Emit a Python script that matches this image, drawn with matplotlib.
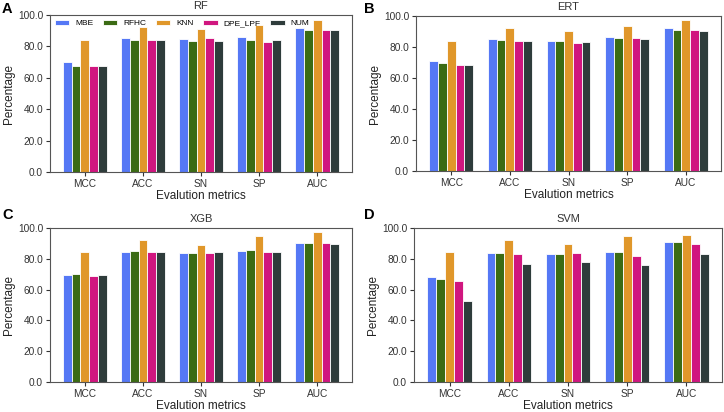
import matplotlib
matplotlib.use("Agg")
import matplotlib.pyplot as plt
import numpy as np

plt.rcParams['font.family'] = ['Liberation Sans', 'DejaVu Sans']

metrics = ["MCC", "ACC", "SN", "SP", "AUC"]
methods = ["MBE", "RFHC", "KNN", "DPE_LPF", "NUM"]
colors = ["#5578f5", "#3b6b14", "#e0972a", "#d0167f", "#2e3c3b"]

# values per classifier, rows = methods, cols = metrics
rf = [
    [70.0, 85.3, 84.7, 85.8, 91.7],
    [67.2, 83.8, 83.6, 84.0, 90.6],
    [84.2, 92.3, 90.8, 93.7, 96.9],
    [67.4, 83.8, 85.3, 82.5, 90.4],
    [67.2, 83.8, 83.4, 84.2, 90.2],
]
ert = [
    [70.7, 85.2, 83.9, 86.6, 92.1],
    [69.6, 84.8, 83.9, 85.9, 91.0],
    [84.1, 92.1, 90.5, 93.4, 97.4],
    [68.1, 83.9, 82.6, 85.7, 91.2],
    [68.5, 84.1, 83.5, 85.2, 90.5],
]
xgb = [
    [69.2, 84.5, 83.8, 85.0, 90.5],
    [69.9, 85.0, 83.8, 85.8, 90.5],
    [84.3, 92.0, 89.2, 94.7, 97.6],
    [68.8, 84.3, 83.8, 84.7, 90.3],
    [69.2, 84.5, 84.5, 84.3, 89.6],
]
svm = [
    [67.9, 83.9, 83.3, 84.6, 90.7],
    [67.2, 83.5, 82.9, 84.6, 90.7],
    [84.6, 92.4, 89.8, 94.8, 95.4],
    [65.5, 82.9, 83.9, 81.8, 89.4],
    [52.9, 76.8, 77.7, 75.7, 83.3],
]

panels = [("A", "RF", rf), ("B", "ERT", ert), ("C", "XGB", xgb), ("D", "SVM", svm)]
# axes boxes in figure fractions (left, bottom, width, height)
boxes = [
    (50 / 724, 1 - 172 / 412, 302 / 724, 157 / 412),
    (416 / 724, 1 - 171 / 412, 305 / 724, 155 / 412),
    (50 / 724, 1 - 382 / 412, 302 / 724, 154 / 412),
    (414 / 724, 1 - 382 / 412, 308 / 724, 154 / 412),
]
label_pos = [(2 / 724, 1 - 2 / 412), (364 / 724, 1 - 2 / 412),
             (2 / 724, 1 - 208 / 412), (364 / 724, 1 - 208 / 412)]

fig = plt.figure(figsize=(7.24, 4.12), dpi=100)

x = np.arange(len(metrics))
width = 0.15

for i, (letter, title, data) in enumerate(panels):
    ax = fig.add_axes(boxes[i])
    for j, name in enumerate(methods):
        ax.bar(x + (j - 2) * width, data[j], width, color=colors[j],
               edgecolor="white", linewidth=0.6, label=name)
    ax.set_ylim(0, 100)
    ax.set_yticks(np.arange(0, 101, 20))
    ax.set_yticklabels([f"{v:.1f}" for v in range(0, 101, 20)])
    ax.set_xticks(x)
    ax.set_xticklabels(metrics)
    ax.set_xlim(-0.6, 4.6)
    ax.set_title(title, fontsize=8, color="#333333", pad=4)
    ax.set_xlabel("Evalution metrics", fontsize=8.5, color="#222222", labelpad=1)
    ax.set_ylabel("Percentage", fontsize=8.5, color="#222222", labelpad=2)
    ax.tick_params(labelsize=7.3, length=3, width=0.8, colors="#333333", pad=2)
    for s in ax.spines.values():
        s.set_color("#555555")
        s.set_linewidth(0.8)
    fig.text(label_pos[i][0], label_pos[i][1], letter, fontsize=10.5,
             fontweight="bold", va="top", ha="left")
    if i == 0:
        ax.legend(loc="upper left", ncol=5, frameon=False, fontsize=6,
                  bbox_to_anchor=(0.0, 1.0), handlelength=1.7, columnspacing=1.2,
                  handleheight=0.5, handletextpad=0.7, borderaxespad=0.2)

fig.savefig("out.png", dpi=100)
